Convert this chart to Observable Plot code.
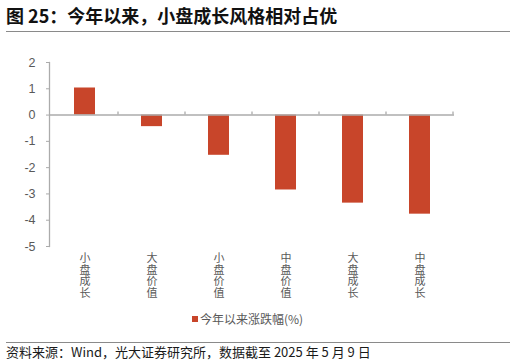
<!DOCTYPE html>
<html>
<head>
<meta charset="utf-8">
<script src="https://cdn.jsdelivr.net/npm/d3@7"></script>
<script src="https://cdn.jsdelivr.net/npm/@observablehq/plot@0.6"></script>
<style>
  html, body { margin: 0; padding: 0; background: #fff; }
  body { width: 516px; height: 363px; position: relative; overflow: hidden;
         font-family: "Liberation Sans", "Noto Sans CJK SC", sans-serif; }
  #title { position: absolute; left: 6px; top: 3px; font-size: 18px; font-weight: bold;
           color: #111; font-family: "Noto Sans CJK SC", sans-serif; line-height: 24px; white-space: nowrap; }
  .sep { position: absolute; left: 6px; width: 504px; height: 1px; background: #8a8a8a; }
  #chart { position: absolute; left: 0; top: 40px; }
  #legend { position: absolute; left: 192px; top: 311px; font-size: 12px; color: #595959;
            font-family: "Noto Sans CJK SC", sans-serif; line-height: 16px; white-space: nowrap; display: flex; align-items: center; }
  #legend .sw { display: inline-block; width: 6px; height: 6px; margin-right: 2px; }
  #caption { position: absolute; left: 6px; top: 343px; font-size: 13px; color: #1a1a1a;
             font-family: "Noto Sans CJK SC", sans-serif; line-height: 18px; white-space: nowrap; }
</style>
</head>
<body>
<div id="title"></div>
<div class="sep" style="top:31px"></div>
<div id="chart"></div>
<div id="legend"></div>
<div class="sep" style="top:342px"></div>
<div id="caption"></div>
<script>
const titleText = "图 25：今年以来，小盘成长风格相对占优";
const captionText = "资料来源：Wind，光大证券研究所，数据截至 2025 年 5 月 9 日";
const seriesName = "今年以来涨跌幅(%)";
const categories = ["小盘成长", "大盘价值", "小盘价值", "中盘价值", "大盘成长", "中盘成长"];
const values = [1.03, -0.44, -1.53, -2.85, -3.35, -3.77];
const yTicks = [-5, -4, -3, -2, -1, 0, 1, 2];
const barColor = "#C8452A";
const axisColor = "#ababab";
const textColor = "#595959";

document.getElementById("title").textContent = titleText;
document.getElementById("caption").textContent = captionText;
const lg = document.getElementById("legend");
const sw = document.createElement("span");
sw.className = "sw"; sw.style.background = barColor;
lg.appendChild(sw);
lg.appendChild(document.createTextNode(seriesName));

const data = categories.map((c, i) => ({cat: c, value: values[i]}));

// ticks at band boundaries on the zero line
function boundaryTicks(index, scales, vals, dims, context) {
  const x = scales.x, y = scales.y;
  const step = x.step(), bw = x.bandwidth();
  const y0 = y(0);
  const g = d3.create("svg:g");
  categories.forEach(c => {
    const xr = x(c) + bw / 2 + step / 2;
    g.append("line").attr("x1", xr).attr("x2", xr).attr("y1", y0).attr("y2", y0 - 3)
      .attr("stroke", axisColor).attr("stroke-width", 1.3);
  });
  return g.node();
}

const chart = Plot.plot({
  width: 516,
  height: 265,
  marginLeft: 49,
  marginRight: 62,
  marginTop: 22,
  marginBottom: 59,
  style: {fontFamily: "'Liberation Sans', 'Noto Sans CJK SC', sans-serif", fontSize: "12px", color: textColor, background: "white"},
  x: {domain: categories, paddingInner: 0.69, paddingOuter: 0.345, label: null},
  y: {domain: [-5, 2], label: null},
  marks: [
    Plot.barY(data, {x: "cat", y: "value", fill: barColor}),
    Plot.frame({anchor: "left", stroke: axisColor, strokeWidth: 1.3}),
    Plot.ruleY([0], {stroke: axisColor, strokeWidth: 1.6}),
    boundaryTicks,
    Plot.axisY({ticks: yTicks, tickFormat: d => String(d), tickSize: 3, tickPadding: 11,
                stroke: axisColor, fill: textColor, fontSize: 12.5}),
    Plot.axisX({tickSize: 0, tickPadding: 7, tickFormat: d => d.split("").join("\n"),
                lineHeight: 1.07, fill: textColor, fontSize: 11,
                fontFamily: "'Noto Sans CJK SC', sans-serif"})
  ]
});
document.getElementById("chart").appendChild(chart);
</script>
</body>
</html>
